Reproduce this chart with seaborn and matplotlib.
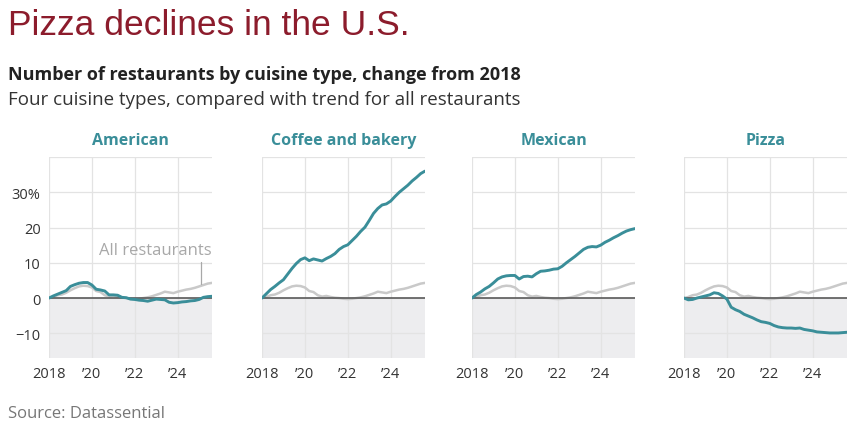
import seaborn as sns
import pandas as pd
import numpy as np
import matplotlib.pyplot as plt

# sampled every 0.2 years from 2018.0 to 2025.6
years = np.round(np.arange(2018.0, 2025.61, 0.2), 1)

all_restaurants = [0, 0.3, 0.8, 1.0, 1.5, 2.2, 2.8, 3.3, 3.5, 3.4,
                   3.0, 2.0, 1.7, 0.8, 0.4, 0.6, 0.3, 0.1, 0.0, -0.2,
                   -0.3, -0.2, 0.0, 0.2, 0.5, 0.9, 1.3, 1.8, 1.6, 1.4,
                   1.8, 2.1, 2.4, 2.6, 2.9, 3.3, 3.7, 4.1, 4.3]

american = [0, 0.6, 1.1, 1.6, 2.1, 3.3, 3.8, 4.2, 4.4, 4.4,
            3.7, 2.5, 2.3, 2.0, 0.9, 0.9, 0.8, 0.2, 0.1, -0.3,
            -0.4, -0.6, -0.7, -0.9, -0.6, -0.3, -0.4, -0.5, -1.2, -1.4,
            -1.3, -1.1, -1.0, -0.8, -0.7, -0.4, 0.2, 0.4, 0.5]

coffee = [0, 1.2, 2.4, 3.3, 4.3, 5.2, 6.8, 8.4, 9.8, 10.9,
          11.4, 10.6, 11.1, 10.8, 10.5, 11.2, 11.8, 12.6, 13.8, 14.6,
          15.1, 16.3, 17.5, 18.9, 20.1, 22.0, 24.0, 25.4, 26.4, 26.7,
          27.5, 28.8, 30.0, 31.0, 32.0, 33.2, 34.2, 35.3, 36.0]

mexican = [0, 1.0, 1.7, 2.6, 3.3, 4.3, 5.4, 6.0, 6.3, 6.4,
           6.4, 5.4, 6.1, 6.2, 6.0, 6.9, 7.6, 7.7, 7.9, 8.2,
           8.3, 9.0, 10.0, 10.9, 11.8, 12.8, 13.8, 14.4, 14.6, 14.5,
           15.0, 15.8, 16.4, 17.1, 17.7, 18.4, 19.0, 19.4, 19.7]

pizza = [0, -0.5, -0.4, 0.0, 0.3, 0.6, 0.9, 1.5, 1.3, 0.6,
         -0.3, -2.6, -3.3, -3.8, -4.6, -5.1, -5.6, -6.2, -6.7, -6.9,
         -7.2, -7.8, -8.2, -8.4, -8.5, -8.5, -8.6, -8.5, -8.9, -9.1,
         -9.3, -9.6, -9.7, -9.8, -9.9, -9.9, -9.9, -9.8, -9.7]

cuisines = ["American", "Coffee and bakery", "Mexican", "Pizza"]
cuisine_values = [american, coffee, mexican, pizza]

y_ticks = [-10, 0, 10, 20, 30]
y_labels = ["\u221210", "0", "10", "20", "30%"]
x_ticks = [2018, 2020, 2022, 2024]
x_labels = ["2018", "\u201920", "\u201922", "\u201924"]

TEAL = "#3a8e99"
GREY_LINE = "#c9c9c9"

sns.set_theme(style="white")
plt.rcParams["font.family"] = ["Open Sans", "DejaVu Sans"]

fig = plt.figure(figsize=(8.58, 4.27), dpi=100)

lefts_px = [49, 262, 472, 684]
W, H = 858, 427
for i, (name, vals) in enumerate(zip(cuisines, cuisine_values)):
    ax = fig.add_axes([lefts_px[i] / W, 1 - 359 / H, 163 / W, 201 / H])
    df = pd.DataFrame({"year": years, "all": all_restaurants, "cuisine": vals})
    ax.axhspan(-17, 0, color="#ededef", zorder=0, lw=0)
    sns.lineplot(data=df, x="year", y="all", ax=ax, color=GREY_LINE, lw=1.8, zorder=3)
    ax.axhline(0, color="#5a5a5a", lw=1.2, zorder=4)
    sns.lineplot(data=df, x="year", y="cuisine", ax=ax, color=TEAL, lw=2.1, zorder=5)

    ax.set_xlim(2018, 2025.6)
    ax.set_ylim(-17, 40)
    ax.set_xticks(x_ticks)
    ax.set_yticks(y_ticks + [40])
    ax.grid(True, color="#e3e3e3", lw=0.9, zorder=1)
    ax.set_axisbelow(True)
    for s in ax.spines.values():
        s.set_visible(False)
    ax.set_xticklabels(x_labels)
    if i == 0:
        ax.set_yticklabels(y_labels + [""])
    else:
        ax.set_yticklabels([])
    ax.tick_params(length=0, labelsize=10.5, labelcolor="#333333", pad=6)
    ax.set_xlabel("")
    ax.set_ylabel("")
    ax.set_title(name, color=TEAL, fontsize=11.5, fontweight="bold", pad=9)

    if i == 0:
        ax.text(2025.6, 13.6, "All restaurants", ha="right", va="center",
                fontsize=12, color="#a8a8a8")
        ax.plot([2025.1, 2025.1], [10.2, 4.0], color="#a8a8a8", lw=0.9, zorder=6)

fig.text(8 / W, 1 - 35 / H, "Pizza declines in the U.S.", color="#8c1c2c",
         fontsize=25.5, family=["Liberation Sans", "DejaVu Sans"], va="baseline")
fig.text(8 / W, 1 - 80 / H, "Number of restaurants by cuisine type, change from 2018",
         color="#222222", fontsize=13, fontweight="bold", va="baseline")
fig.text(8 / W, 1 - 105 / H, "Four cuisine types, compared with trend for all restaurants",
         color="#333333", fontsize=13.5, va="baseline")
fig.text(8 / W, 1 - 418 / H, "Source: Datassential", color="#777777",
         fontsize=12, va="baseline")

fig.savefig("out.png", dpi=100)
